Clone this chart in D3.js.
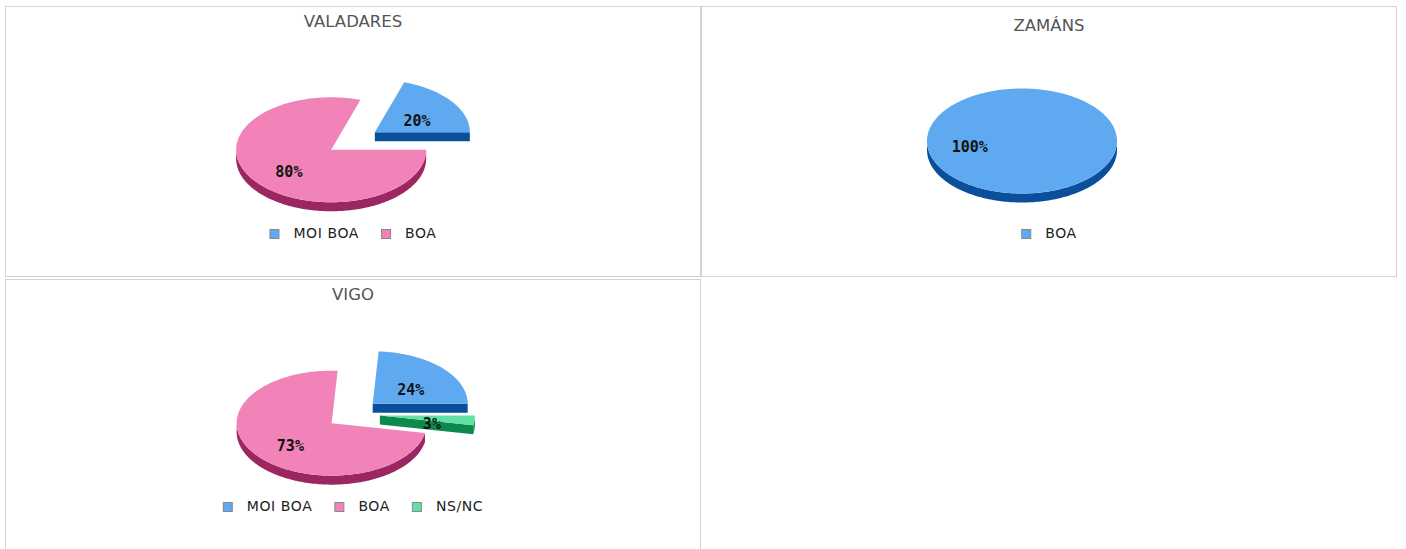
<!DOCTYPE html>
<html>
<head>
<meta charset="utf-8">
<script src="https://cdn.jsdelivr.net/npm/d3@7"></script>
<style>
  body { margin: 0; background: #fff; }
  .title { font-family: 'DejaVu Sans', sans-serif; font-size: 16.5px; fill: #555; }
  .legend text { font-family: 'DejaVu Sans', sans-serif; font-size: 14px; fill: #222; letter-spacing: 0.6px; }
  .pct { font-family: 'DejaVu Sans Mono', monospace; font-size: 15px; font-weight: bold; fill: #111; }
</style>
</head>
<body>
<div id="chart"></div>
<script>
// data
var titles = ['VALADARES', 'ZAMÁNS', 'VIGO'];
var valadares_labels = ['MOI BOA', 'BOA'];
var valadares_values = [20, 80];
var zamans_labels = ['BOA'];
var zamans_values = [100];
var vigo_labels = ['MOI BOA', 'BOA', 'NS/NC'];
var vigo_values = [24, 73, 3];

var chart_width = 1406;
var chart_height = 549;

// colours by slice index
var top_colors = ['#5fa9f1', '#f183b9', '#60e2a6'];
var side_colors = ['#0b4f9c', '#9b2661', '#0b8a4c'];

// panel boxes
var panels = [
  { x: 5, y: 6, w: 696, h: 271, labels: valadares_labels, values: valadares_values },
  { x: 701, y: 6, w: 696, h: 271, labels: zamans_labels, values: zamans_values },
  { x: 5, y: 279, w: 696, h: 280, labels: vigo_labels, values: vigo_values }
];

var rx = 95, ry = 52.5, depth = 9, explode = 27;

var svg = d3.select('#chart')
  .append('svg')
  .attr('width', chart_width)
  .attr('height', chart_height);

var line = d3.line();

// d3.pie goes clockwise from 12 o'clock, slices here go anticlockwise from 3 o'clock
var pie = d3.pie()
  .sort(null)
  .startAngle(Math.PI / 2)
  .endAngle(Math.PI / 2 - 2 * Math.PI);

function arcPoints(cx, cy, t0, t1, dy) {
  var n = Math.max(2, Math.ceil(Math.abs(t1 - t0) / 0.02));
  return d3.range(n + 1).map(function(i) {
    var t = t0 + (t1 - t0) * i / n;
    return [cx + rx * Math.cos(t), cy - ry * Math.sin(t) + dy];
  });
}

panels.forEach(function(p, pi) {
  var g = svg.append('g');

  g.append('rect')
    .attr('x', p.x + 0.5)
    .attr('y', p.y + 0.5)
    .attr('width', p.w - 1)
    .attr('height', p.h - 1)
    .attr('fill', 'none')
    .attr('stroke', '#d4d4d4');

  // accented capitals push the title down a little
  var accent = /[ÁÉÍÓÚÑ]/.test(titles[pi]) ? 4 : 0;
  g.append('text')
    .attr('class', 'title')
    .attr('x', p.x + p.w / 2)
    .attr('y', p.y + 21 + accent)
    .attr('text-anchor', 'middle')
    .text(titles[pi]);

  var cx = p.x + p.w / 2;
  var cy = p.y + 135;

  var slices = pie(p.values).map(function(d, i) {
    var t0 = Math.PI / 2 - d.startAngle;
    var t1 = Math.PI / 2 - d.endAngle;
    var mid = (t0 + t1) / 2;
    return {
      i: i, value: d.value, t0: t0, t1: t1, mid: mid,
      cx: cx + explode * Math.cos(mid),
      cy: cy - explode * Math.sin(mid) * ry / rx
    };
  });

  var full = p.values.length === 1;

  // sides and walls
  slices.forEach(function(s) {
    var lo = Math.max(s.t0, Math.PI), hi = Math.min(s.t1, 2 * Math.PI);
    if (lo < hi) {
      var pts = arcPoints(s.cx, s.cy, lo, hi, 0).concat(arcPoints(s.cx, s.cy, hi, lo, depth));
      g.append('path').attr('d', line(pts) + 'Z').attr('fill', side_colors[s.i]);
    }
    if (!full) {
      [[s.t0, Math.cos(s.t0) > 0.5], [s.t1, Math.cos(s.t1) < -0.5]].forEach(function(w) {
        if (!w[1]) return;
        var ex = s.cx + rx * Math.cos(w[0]), ey = s.cy - ry * Math.sin(w[0]);
        var pts = [[s.cx, s.cy], [ex, ey], [ex, ey + depth], [s.cx, s.cy + depth]];
        g.append('path').attr('d', line(pts) + 'Z').attr('fill', side_colors[s.i]);
      });
    }
  });

  // top faces
  slices.forEach(function(s) {
    var pts = arcPoints(s.cx, s.cy, s.t0, s.t1, 0);
    if (!full) pts = [[s.cx, s.cy]].concat(pts);
    g.append('path').attr('d', line(pts) + 'Z').attr('fill', top_colors[s.i]);
  });

  // percent labels
  var total = d3.sum(p.values);
  slices.forEach(function(s) {
    g.append('text')
      .attr('class', 'pct')
      .attr('x', s.cx + 0.55 * rx * Math.cos(s.mid))
      .attr('y', s.cy - 0.55 * ry * Math.sin(s.mid) + 6)
      .attr('text-anchor', 'middle')
      .attr('dominant-baseline', 'middle')
      .text(Math.round(s.value / total * 100) + '%');
  });

  // legend
  var leg = g.append('g').attr('class', 'legend');
  var lx = 0;
  p.labels.forEach(function(name, i) {
    var item = leg.append('g').attr('transform', 'translate(' + lx + ',0)');
    item.append('rect')
      .attr('x', 0.5).attr('y', -4.5)
      .attr('width', 9).attr('height', 9)
      .attr('fill', top_colors[i])
      .attr('stroke', '#888');
    var t = item.append('text')
      .attr('x', 24)
      .attr('y', 0)
      .attr('dominant-baseline', 'middle')
      .text(name);
    lx += 24 + t.node().getComputedTextLength() + 22;
  });
  var lw = lx - 22;
  leg.attr('transform', 'translate(' + (p.x + p.w / 2 - lw / 2) + ',' + (p.y + 228) + ')');
});
</script>
</body>
</html>
